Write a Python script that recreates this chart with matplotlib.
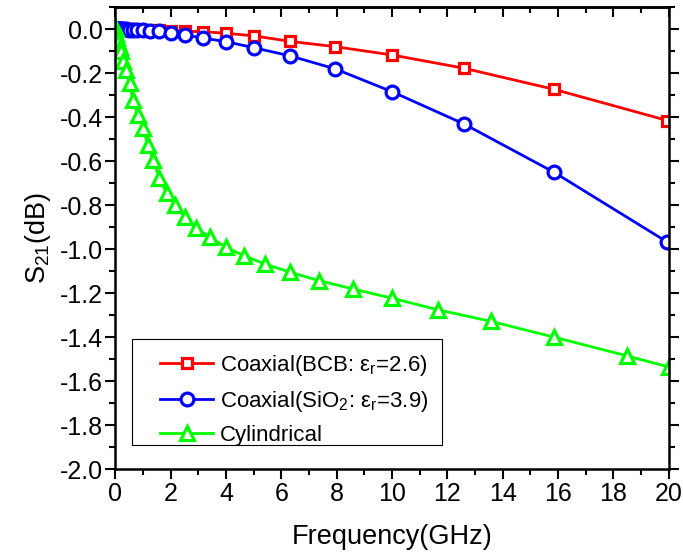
import matplotlib
matplotlib.use("Agg")
import matplotlib.pyplot as plt
from matplotlib.patches import Rectangle
from matplotlib.ticker import MultipleLocator

plt.rcParams['font.family'] = ['Liberation Sans', 'DejaVu Sans']
plt.rcParams['mathtext.fontset'] = 'custom'
plt.rcParams['mathtext.rm'] = 'Liberation Sans'

# frequency points (GHz) of the two coaxial sweeps
freq_coax = [0.01, 0.0158, 0.0251, 0.0398, 0.0631,
             0.1, 0.126, 0.158, 0.2, 0.251, 0.316, 0.398, 0.501, 0.631, 0.794,
             1.0, 1.26, 1.58, 2.0, 2.51, 3.16, 3.98, 5.01, 6.31, 7.94,
             10.0, 12.59, 15.85, 19.95]
s21_bcb = [0.0, 0.0, 0.0, 0.0, 0.0,
           0.0, 0.0, 0.0, 0.0, 0.0, 0.0, 0.0, -0.001, -0.001, -0.001,
           -0.002, -0.003, -0.004, -0.006, -0.009, -0.011, -0.018, -0.03, -0.055, -0.079,
           -0.117, -0.177, -0.273, -0.415]
s21_sio2 = [0.0, 0.0, 0.0, 0.0, 0.0,
            0.0, 0.0, 0.0, 0.0, -0.001, -0.001, -0.001, -0.002, -0.002, -0.003,
            -0.004, -0.006, -0.01, -0.016, -0.026, -0.04, -0.056, -0.084, -0.121, -0.18,
            -0.284, -0.43, -0.65, -0.968]

# cylindrical via sweep
freq_cyl = [0.01, 0.03, 0.06, 0.1, 0.15, 0.21, 0.27, 0.39, 0.51, 0.63, 0.81,
            1.0, 1.17, 1.36, 1.585, 1.848, 2.154, 2.512, 2.929, 3.415, 3.981,
            4.642, 5.412, 6.31, 7.356, 8.577, 10.0, 11.66, 13.59, 15.85, 18.48, 20.0]
s21_cyl = [0.0, -0.02, -0.04, -0.06, -0.08, -0.10, -0.146, -0.184, -0.245, -0.321, -0.39,
           -0.45, -0.526, -0.594, -0.677, -0.745, -0.799, -0.852, -0.905, -0.945, -0.99,
           -1.03, -1.068, -1.105, -1.143, -1.181, -1.223, -1.276, -1.329, -1.40, -1.485, -1.536]

labels = ['Coaxial(BCB: ε$_\\mathregular{r}$=2.6)',
          'Coaxial(SiO$_\\mathregular{2}$: ε$_\\mathregular{r}$=3.9)',
          'Cylindrical']

fig = plt.figure(figsize=(6.83, 5.59), dpi=100)
ax = fig.add_axes([0.169, 0.161, 0.81, 0.826])

ax.plot(freq_coax, s21_bcb, color='#ff0000', lw=2.0, marker='s', ms=7.5,
        mew=2.3, mfc='white', label=labels[0])
ax.plot(freq_coax, s21_sio2, color='#0000ff', lw=2.0, marker='o', ms=9.2,
        mew=2.3, mfc='white', label=labels[1])
ax.plot(freq_cyl, s21_cyl, color='#00ff00', lw=2.0, marker='^', ms=10,
        mew=2.3, mfc='white', label=labels[2])

ax.set_xlim(0, 20)
ax.set_ylim(-2.0, 0.1)
ax.xaxis.set_major_locator(MultipleLocator(2))
ax.xaxis.set_minor_locator(MultipleLocator(1))
ax.yaxis.set_major_locator(MultipleLocator(0.2))
ax.yaxis.set_minor_locator(MultipleLocator(0.1))
ax.yaxis.set_major_formatter(matplotlib.ticker.FormatStrFormatter('%.1f'))

for s in ax.spines.values():
    s.set_linewidth(1.8)
ax.tick_params(which='major', direction='out', length=7, width=1.5,
               labelsize=18, pad=2, right=True)
ax.tick_params(which='minor', direction='out', length=4.3, width=1.5, right=True)

top = ax.secondary_xaxis('top')
top.xaxis.set_major_locator(MultipleLocator(2))
top.xaxis.set_minor_locator(MultipleLocator(1))
top.tick_params(which='major', direction='in', length=7, width=1.5, labeltop=False)
top.tick_params(which='minor', direction='in', length=4.3, width=1.5)
top.spines['top'].set_linewidth(1.8)

ax.set_xlabel('Frequency(GHz)', fontsize=19.5, labelpad=13)
ax.set_ylabel('S$_\\mathregular{21}$(dB)', fontsize=19.5, labelpad=5)

# legend box drawn separately so the padding can differ per side
ax.add_patch(Rectangle((0.0293, 0.052), 0.561, 0.229, transform=ax.transAxes,
                       fill=True, facecolor='white', edgecolor='black', lw=0.8, zorder=5))
leg = ax.legend(loc='upper left', bbox_to_anchor=(0.0805, 0.252), frameon=False,
                fontsize=16, handlelength=2.4, handletextpad=0.3, borderpad=0,
                borderaxespad=0, labelspacing=0.5)
leg.set_zorder(6)

fig.savefig('out.png', dpi=100)
